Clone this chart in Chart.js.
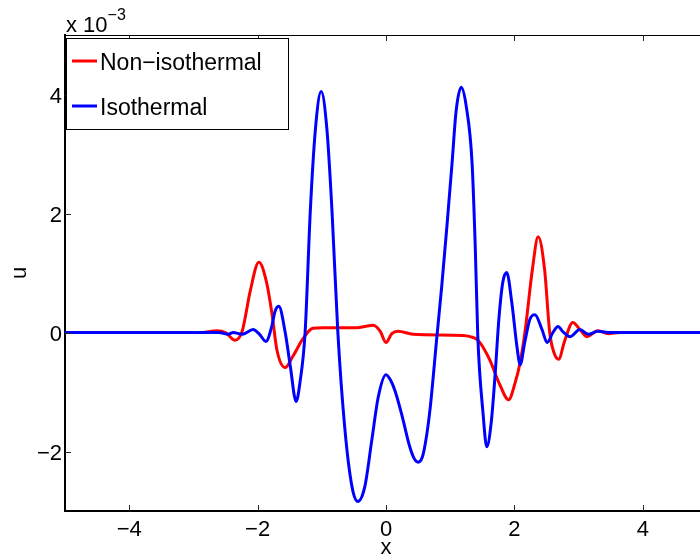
<!DOCTYPE html>
<html><head><meta charset="utf-8">
<script src="https://cdn.jsdelivr.net/npm/chart.js@4"></script>
<style>
html,body{margin:0;padding:0;background:#fff;}
#wrap{width:700px;height:560px;overflow:hidden;position:relative;}
canvas{display:block;}
</style></head><body>
<div id="wrap"><canvas id="c" width="720" height="560"></canvas></div>
<script>
// ---- data (u values in units of 1e-3) ----
const xTicks = [-4, -2, 0, 2, 4];
const yTicks = [-2, 0, 2, 4];
const seriesNames = ['Non\u2212isothermal', 'Isothermal'];
const xTitle = 'x';
const yTitle = 'u';

const redX = [-5.00, -2.90, -2.63, -2.50, -2.35, -2.24, -2.19, -2.12, -1.98, -1.86, -1.77, -1.70, -1.57, -1.45, -1.29, -1.14, -0.98, -0.45, -0.33, -0.20, -0.09, 0.00, 0.09, 0.19, 0.42, 1.20, 1.31, 1.42, 1.53, 1.62, 1.77, 1.91, 2.01, 2.09, 2.17, 2.28, 2.37, 2.47, 2.55, 2.62, 2.69, 2.78, 2.91, 3.02, 3.13, 3.30, 3.46, 3.65, 5.00];
const redY = [0, 0, 0.03, 0.00, -0.13, 0.02, 0.27, 0.67, 1.18, 0.84, 0.27, -0.29, -0.59, -0.40, -0.10, 0.07, 0.08, 0.08, 0.10, 0.12, 0.02, -0.17, -0.02, 0.02, -0.03, -0.05, -0.07, -0.12, -0.28, -0.47, -0.87, -1.13, -0.85, -0.50, 0.05, 1.06, 1.61, 1.06, 0.00, -0.35, -0.45, -0.15, 0.17, 0.05, -0.07, 0.03, -0.02, 0.00, 0];

const blueX = [-5.00, -2.60, -2.46, -2.38, -2.24, -2.07, -1.97, -1.87, -1.78, -1.73, -1.67, -1.57, -1.49, -1.40, -1.34, -1.26, -1.18, -1.10, -1.01, -0.92, -0.84, -0.75, -0.64, -0.53, -0.44, -0.33, -0.22, -0.12, 0.00, 0.07, 0.14, 0.25, 0.37, 0.44, 0.50, 0.57, 0.63, 0.69, 0.79, 0.87, 0.95, 1.03, 1.09, 1.17, 1.25, 1.34, 1.39, 1.43, 1.51, 1.57, 1.64, 1.70, 1.76, 1.82, 1.88, 1.96, 2.04, 2.09, 2.16, 2.24, 2.32, 2.43, 2.51, 2.60, 2.68, 2.75, 2.87, 3.02, 3.15, 3.30, 3.50, 5.00];
const blueY = [0, 0, -0.03, 0.00, -0.03, 0.05, -0.03, -0.15, 0.10, 0.35, 0.44, 0.00, -0.57, -1.16, -0.84, 0.00, 2.02, 3.41, 4.05, 3.41, 2.02, 0.00, -1.63, -2.59, -2.84, -2.59, -1.80, -1.08, -0.71, -0.80, -0.98, -1.40, -1.92, -2.12, -2.18, -2.08, -1.75, -1.25, -0.10, 0.80, 1.80, 2.86, 3.70, 4.12, 3.80, 2.86, 1.45, -0.07, -1.34, -1.92, -1.50, -0.70, 0.25, 0.85, 1.01, 0.50, -0.24, -0.54, -0.17, 0.22, 0.30, 0.05, -0.17, 0.00, 0.10, 0.02, -0.07, 0.05, -0.03, 0.02, 0.00, 0];

const FONT = '"Liberation Sans", Arial, Helvetica, sans-serif';
const pts = (xs, ys) => xs.map((v, i) => ({x: v, y: ys[i]}));
const fmt = v => (v < 0 ? '\u2212' + Math.abs(v) : String(v));

const decor = {
  id: 'decor',
  afterDraw(chart) {
    const {ctx, chartArea: a, scales: {x, y}} = chart;
    ctx.save();
    const seg = (x1, y1, x2, y2) => { ctx.beginPath(); ctx.moveTo(x1, y1); ctx.lineTo(x2, y2); ctx.stroke(); };
    // top box line
    ctx.strokeStyle = '#000'; ctx.lineWidth = 1;
    seg(a.left, a.top + 0.5, a.right, a.top + 0.5);
    // inward ticks
    ctx.strokeStyle = '#262626';
    xTicks.forEach(v => {
      const p = Math.round(x.getPixelForValue(v)) + 0.5;
      seg(p, a.bottom, p, a.bottom - 6);
      seg(p, a.top, p, a.top + 6);
    });
    yTicks.forEach(v => {
      const p = Math.round(y.getPixelForValue(v)) + 0.5;
      seg(a.left, p, a.left + 6, p);
      seg(a.right, p, a.right - 6, p);
    });
    // legend
    const lx = a.left + 1, ly = a.top + 3;
    ctx.fillStyle = '#fff';
    ctx.fillRect(lx, ly, 222, 91);
    ctx.strokeStyle = '#000'; ctx.lineWidth = 1;
    ctx.strokeRect(lx + 0.5, ly + 0.5, 222, 91);
    const ds = chart.data.datasets;
    [0, 1].forEach(i => {
      const cy = ly + 23 + i * 45;
      ctx.strokeStyle = ds[i].borderColor; ctx.lineWidth = 3;
      seg(lx + 6, cy, lx + 31, cy);
      ctx.fillStyle = '#000';
      ctx.font = '23px ' + FONT;
      ctx.textBaseline = 'alphabetic';
      ctx.fillText(ds[i].label, lx + 34, cy + 9);
    });
    // exponent label
    ctx.fillStyle = '#000';
    ctx.font = '22px ' + FONT;
    ctx.textBaseline = 'alphabetic';
    const base = 'x 10';
    ctx.fillText(base, a.left + 1, 32);
    const w = ctx.measureText(base).width;
    ctx.font = '16px ' + FONT;
    ctx.fillText('\u22123', a.left + 1 + w, 20);
    ctx.restore();
  }
};

new Chart(document.getElementById('c'), {
  type: 'line',
  data: {
    datasets: [
      {label: seriesNames[0], data: pts(redX, redY), borderColor: '#ff0000', borderWidth: 3, pointRadius: 0, cubicInterpolationMode: 'monotone', fill: false, order: 1},
      {label: seriesNames[1], data: pts(blueX, blueY), borderColor: '#0000ff', borderWidth: 3, pointRadius: 0, cubicInterpolationMode: 'monotone', fill: false, order: 0}
    ]
  },
  options: {
    responsive: false,
    animation: false,
    devicePixelRatio: 1,
    layout: {padding: {top: 35, right: 13, left: 0, bottom: 0}},
    plugins: {legend: {display: false}, tooltip: {enabled: false}},
    scales: {
      x: {
        type: 'linear', min: -5, max: 5,
        afterBuildTicks: s => { s.ticks = xTicks.map(v => ({value: v})); },
        afterFit: s => { s.height = 49; },
        grid: {display: false, drawTicks: false},
        border: {display: true, color: '#000', width: 2},
        ticks: {color: '#000', padding: 6, maxRotation: 0, font: {family: FONT, size: 22}, callback: v => fmt(v)},
        title: {display: true, text: xTitle, color: '#000', font: {family: FONT, size: 22, lineHeight: 1}, padding: {top: 0, bottom: 1}}
      },
      y: {
        type: 'linear', min: -3, max: 5,
        afterBuildTicks: s => { s.ticks = yTicks.map(v => ({value: v})); },
        afterFit: s => { s.width = 65; },
        grid: {display: false, drawTicks: false},
        border: {display: true, color: '#000', width: 2},
        ticks: {color: '#000', padding: 3, labelOffset: 2, font: {family: FONT, size: 22}, callback: v => fmt(v)},
        title: {display: true, text: yTitle, color: '#000', font: {family: FONT, size: 22, lineHeight: 1}, padding: {top: 9, bottom: 0}}
      }
    }
  },
  plugins: [decor]
});
</script>
</body></html>
